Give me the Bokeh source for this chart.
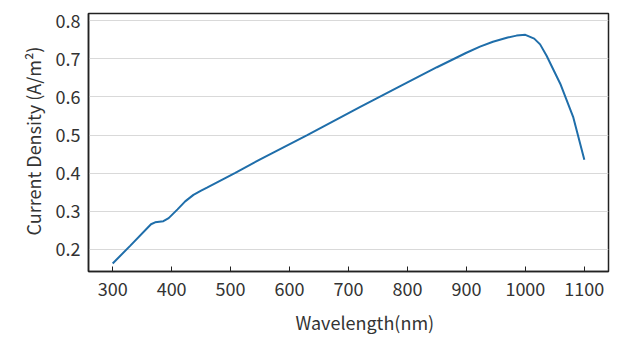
from bokeh.plotting import figure
from bokeh.models import FixedTicker, Range1d, Title
from bokeh.embed import file_html
from bokeh.resources import INLINE

wavelength = [300, 330, 365, 372, 386, 395, 410, 423, 437, 450, 460, 508, 551, 630,
              720, 800, 850, 900, 923, 945, 970, 985, 1000, 1015, 1025, 1036,
              1060, 1081, 1100]
current_density = [0.163, 0.210, 0.266, 0.271, 0.274, 0.282, 0.305, 0.326, 0.343,
                   0.354, 0.362, 0.401, 0.437, 0.500, 0.574, 0.638, 0.678, 0.716,
                   0.732, 0.745, 0.756, 0.761, 0.763, 0.753, 0.738, 0.708,
                   0.632, 0.548, 0.435]
x_ticks = [300, 400, 500, 600, 700, 800, 900, 1000, 1100]
y_ticks = [0.2, 0.3, 0.4, 0.5, 0.6, 0.7, 0.8]
x_title = "Wavelength(nm)"
y_title = "Current Density (A/m²)"

FONT = "Noto Sans CJK SC"
TEXT = "#333333"
SIZE = "18px"

p = figure(width=628, height=343, output_backend="svg", toolbar_location=None,
           x_range=Range1d(259, 1141), y_range=Range1d(0.142, 0.819),
           min_border_left=88, min_border_right=20, min_border_top=13, min_border_bottom=72)

p.line(wavelength, current_density, line_color="#1F6EAA", line_width=2)

p.outline_line_color = "#222222"
p.outline_line_width = 1.5

p.xgrid.grid_line_color = None
p.ygrid.grid_line_color = "#d9d9d9"
p.ygrid.grid_line_width = 1

p.xaxis.ticker = FixedTicker(ticks=x_ticks)
p.yaxis.ticker = FixedTicker(ticks=y_ticks)
p.yaxis.formatter.use_scientific = False

for ax in (p.xaxis, p.yaxis):
    ax.axis_line_color = "#222222"
    ax.axis_line_width = 1.5
    ax.minor_tick_line_color = None
    ax.major_label_text_font = FONT
    ax.major_label_text_font_size = SIZE
    ax.major_label_text_color = TEXT

p.xaxis.major_tick_in = 5
p.xaxis.major_tick_out = 0
p.xaxis.major_tick_line_color = "#222222"
p.xaxis.major_label_standoff = 10

p.yaxis.major_tick_in = 0
p.yaxis.major_tick_out = 0
p.yaxis.major_label_standoff = 8

p.add_layout(Title(text=x_title, align="left", offset=207, standoff=16,
                   text_font=FONT, text_font_size=SIZE, text_font_style="normal",
                   text_color=TEXT), "below")
p.add_layout(Title(text=y_title, align="left", offset=36, standoff=14,
                   text_font=FONT, text_font_size=SIZE, text_font_style="normal",
                   text_color=TEXT), "left")

open("out.html", "w").write(file_html(p, INLINE))
